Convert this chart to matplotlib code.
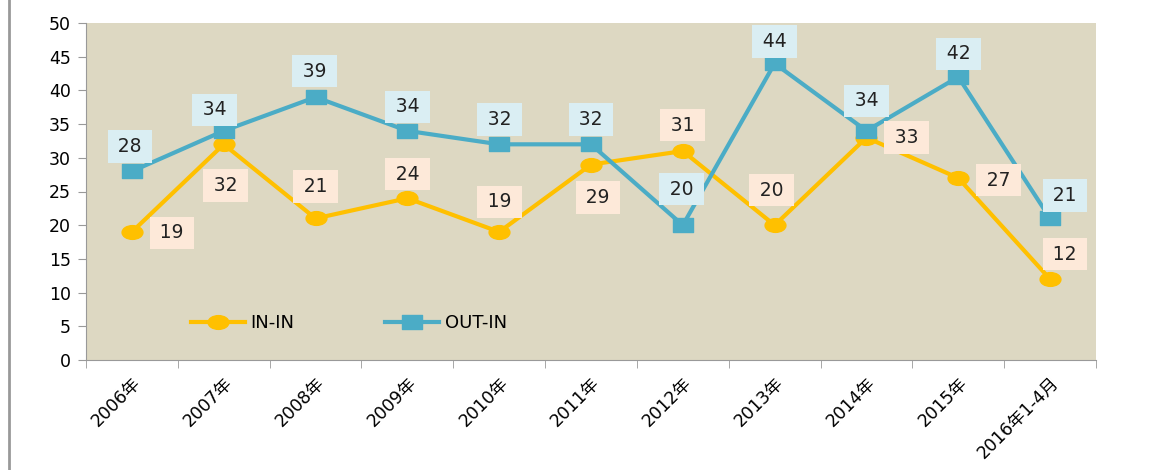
import matplotlib
matplotlib.use('Agg')
import matplotlib.pyplot as plt
from matplotlib.path import Path
from matplotlib.lines import Line2D

plt.rcParams['font.family'] = ['DejaVu Sans', 'Noto Sans CJK SC']

years = ['2006年', '2007年', '2008年', '2009年', '2010年', '2011年',
         '2012年', '2013年', '2014年', '2015年', '2016年1-4月']
in_in = [19, 32, 21, 24, 19, 29, 31, 20, 33, 27, 12]
out_in = [28, 34, 39, 34, 32, 32, 20, 44, 34, 42, 21]

# label offsets in pixels (dx, dy) for each point
in_off = [(40, -1), (2, -41), (0, 32), (0, 24), (0, 30), (7, -33),
          (0, 26), (-3, 35), (40, 0), (40, -2), (15, 25)]
out_off = [(-2, 25), (-9, 21), (-1, 26), (0, 24), (0, 25), (0, 25),
           (-1, 36), (0, 22), (0, 30), (0, 23), (15, 23)]

orange = '#FFC000'
blue = '#4BACC6'

circ = Path.unit_circle()
ell = Path(circ.vertices * [1, 0.66], circ.codes)
sq = Path([(-1, -0.65), (1, -0.65), (1, 0.65), (-1, 0.65), (-1, -0.65)],
          [Path.MOVETO, Path.LINETO, Path.LINETO, Path.LINETO, Path.CLOSEPOLY])

fig = plt.figure(figsize=(11.57, 4.70), dpi=100)
ax = fig.add_axes([86 / 1157, 110 / 470, 1010 / 1157, 337 / 470])
ax.set_facecolor('#DDD8C2')

x = list(range(len(years)))
ax.plot(x, in_in, color=orange, lw=3, marker=ell, ms=15, label='IN-IN')
ax.plot(x, out_in, color=blue, lw=3, marker=sq, ms=15, label='OUT-IN')

for i in x:
    ax.annotate('\u2009' + str(in_in[i]) + '\u2009', (i, in_in[i]), xytext=in_off[i],
                textcoords='offset pixels', ha='center', va='center', fontsize=13.5,
                color='#222222', bbox=dict(boxstyle='square,pad=0.36', fc='#FDE9D9', ec='none'))
    ax.annotate('\u2009' + str(out_in[i]) + '\u2009', (i, out_in[i]), xytext=out_off[i],
                textcoords='offset pixels', ha='center', va='center', fontsize=13.5,
                color='#222222', bbox=dict(boxstyle='square,pad=0.36', fc='#DAEEF3', ec='none'))

ax.set_xlim(-0.5, len(years) - 0.5)
ax.set_ylim(0, 50)
ax.set_yticks(range(0, 51, 5))
ax.set_xticks(x)
ax.set_xticklabels(years, rotation=45, ha='right', rotation_mode='anchor', fontsize=12.5)
ax.tick_params(axis='x', length=0, pad=10)
ax.set_xticks([i - 0.5 for i in range(len(years) + 1)], minor=True)
ax.tick_params(axis='x', which='minor', length=6, color='#999999')
ax.tick_params(axis='y', length=6, color='#999999', labelsize=12.5, pad=5)
for s in ['top', 'right']:
    ax.spines[s].set_visible(False)
for s in ['left', 'bottom']:
    ax.spines[s].set_color('#999999')

ax.legend(loc='center left', bbox_to_anchor=(0.088, 0.11), ncol=2, frameon=False,
          fontsize=13, handlelength=3.0, columnspacing=5, handletextpad=0.3)

fig.add_artist(Line2D([8.5 / 1157, 8.5 / 1157], [0, 1], color='#999999', lw=2))

fig.savefig('out.png', dpi=100)
